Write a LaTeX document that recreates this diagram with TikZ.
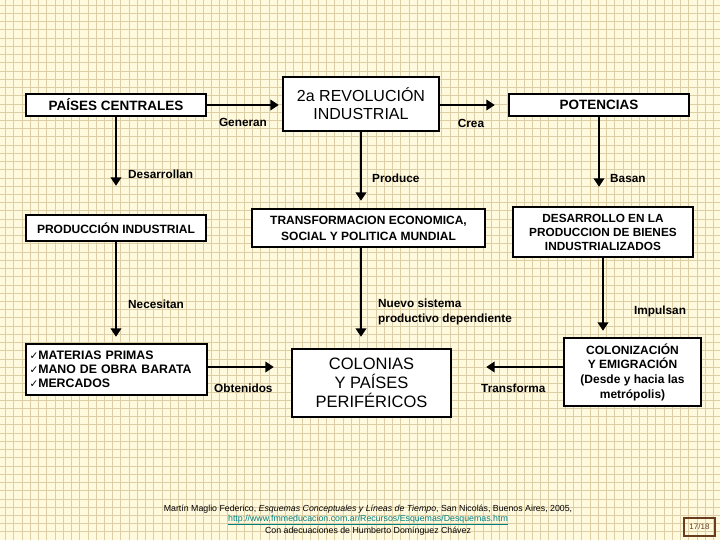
\documentclass[tikz,border=0pt]{standalone}
\usepackage{fontspec}
\setmainfont{Liberation Sans}
\newfontfamily\chkfont{DejaVu Sans}
\usetikzlibrary{arrows.meta}
\definecolor{bgc}{RGB}{255,250,222}
\definecolor{gridc}{RGB}{222,206,165}
\definecolor{linkc}{RGB}{0,128,128}
\definecolor{pgc}{RGB}{105,60,30}
\tikzset{
  box/.style={draw=black, line width=2.4pt, fill=white, inner sep=2pt, align=center, font=\bfseries\fontsize{12}{14}\selectfont},
  conn/.style={line width=2.1pt, -{Triangle[length=8.5pt,width=10.5pt]}},
  lab/.style={font=\bfseries\fontsize{11.8}{15}\selectfont, inner sep=0pt, align=left},
  foot/.style={font=\fontsize{8.8}{10}\selectfont, inner sep=0pt}
}
\newcommand{\ck}{{\chkfont\fontsize{10.5}{10}\selectfont ✓}}
\begin{document}
\begin{tikzpicture}[x=1pt,y=-1pt]
\fill[bgc] (0,0) rectangle (720,540);
\useasboundingbox (0,0) rectangle (720,540);
\foreach \i in {0,...,87} {
  \draw[gridc, line width=0.9pt] ({5.7+8.23*\i},0) -- ({5.7+8.23*\i},540);
}
\foreach \i in {0,...,65} {
  \draw[gridc, line width=0.9pt] (0,{5.2+8.23*\i}) -- (720,{5.2+8.23*\i});
}
% boxes
\node[box, minimum width=180pt, minimum height=22pt, font=\bfseries\fontsize{13.5}{15}\selectfont] (pc) at (116,105) {PAÍSES CENTRALES};
\node[box, minimum width=156pt, minimum height=54pt, font=\fontsize{16}{18}\selectfont] (rev) at (361,104) {2a REVOLUCIÓN\\INDUSTRIAL};
\node[box, minimum width=180pt, minimum height=22pt, font=\bfseries\fontsize{13.5}{15}\selectfont] (pot) at (599,105) {POTENCIAS};
\node[box, minimum width=180pt, minimum height=26pt] (pi) at (116,228) {PRODUCCIÓN INDUSTRIAL};
\node[box, minimum width=233pt, minimum height=38pt, font=\bfseries\fontsize{12}{16}\selectfont] (tr) at (368.5,228) {TRANSFORMACION ECONOMICA,\\SOCIAL Y POLITICA MUNDIAL};
\node[box, minimum width=180pt, minimum height=50pt, font=\bfseries\fontsize{11.8}{14}\selectfont] (des) at (603,232) {DESARROLLO EN LA\\PRODUCCION DE BIENES\\INDUSTRIALIZADOS};
\node[box, minimum width=181pt, minimum height=51pt, text width=174pt, align=left, font=\bfseries\fontsize{12.3}{14}\selectfont] (mat) at (116.5,369.5) {\ck MATERIAS PRIMAS\\\ck MANO DE OBRA BARATA\\\ck MERCADOS};
\node[box, minimum width=159pt, minimum height=68pt, font=\fontsize{16.5}{19}\selectfont] (col) at (371.5,383) {COLONIAS\\Y PAÍSES\\PERIFÉRICOS};
\node[box, minimum width=137pt, minimum height=68pt, font=\bfseries\fontsize{12}{14.7}\selectfont] (colz) at (632.5,372) {COLONIZACIÓN\\Y EMIGRACIÓN\\(Desde y hacia las\\metrópolis)};
% connectors
\draw[conn, shorten >=3pt] (pc.east) -- (pc.east -| rev.west);
\draw[conn, shorten >=13pt] (rev.east |- pc.east) -- (pot.west);
\draw[conn, shorten >=28pt] (pc.south) -- (pc.south |- pi.north);
\draw[conn, shorten >=7pt] (rev.south) -- (rev.south |- tr.north);
\draw[conn, shorten >=19pt] (pot.south) -- (pot.south |- des.north);
\draw[conn, shorten >=6pt] (pi.south) -- (pi.south |- mat.north);
\draw[conn, shorten >=17pt] ([yshift=2.5pt]mat.east) -- ([yshift=2.5pt]mat.east -| col.west);
\draw[conn, shorten >=11pt] (rev.south |- tr.south) -- (rev.south |- col.north);
\draw[conn, shorten >=6pt] (des.south) -- (des.south |- colz.north);
\draw[conn, shorten >=34pt] ([yshift=5pt]colz.west) -- ([yshift=5pt]colz.west -| col.east);
% labels
\node[lab, anchor=center] (l1) at (243,122) {Generan};
\node[lab, anchor=center] (l2) at (471,123) {Crea};
\node[lab, anchor=west] (l3) at (128,174) {Desarrollan};
\node[lab, anchor=west] (l4) at (372,178) {Produce};
\node[lab, anchor=west] (l5) at (610,178) {Basan};
\node[lab, anchor=west] (l6) at (128,304) {Necesitan};
\node[lab, anchor=west] (l7) at (378,311.5) {Nuevo sistema\\productivo dependiente};
\node[lab, anchor=west] (l8) at (634,311) {Impulsan};
\node[lab, anchor=west] (l9) at (214,388) {Obtenidos};
\node[lab, anchor=west] (l10) at (481,388) {Transforma};
% footer
\node[foot] (f1) at (368,509) {Martín Maglio Federico, \textit{Esquemas Conceptuales y Líneas de Tiempo}, San Nicolás, Buenos Aires, 2005,};
\node[foot, text=linkc] (f2) at (368,520) {\underline{http://www.fmmeducacion.com.ar/Recursos/Esquemas/Desquemas.htm}};
\node[foot] (f3) at (368,531.5) {Con adecuaciones de Humberto Domínguez Chávez};
\node[draw=pgc, line width=1.2pt, minimum width=31pt, minimum height=18pt, inner sep=0pt, text=pgc, font=\fontsize{8}{10}\selectfont] (pg) at (699.5,527) {17/18};
\end{tikzpicture}
\end{document}
